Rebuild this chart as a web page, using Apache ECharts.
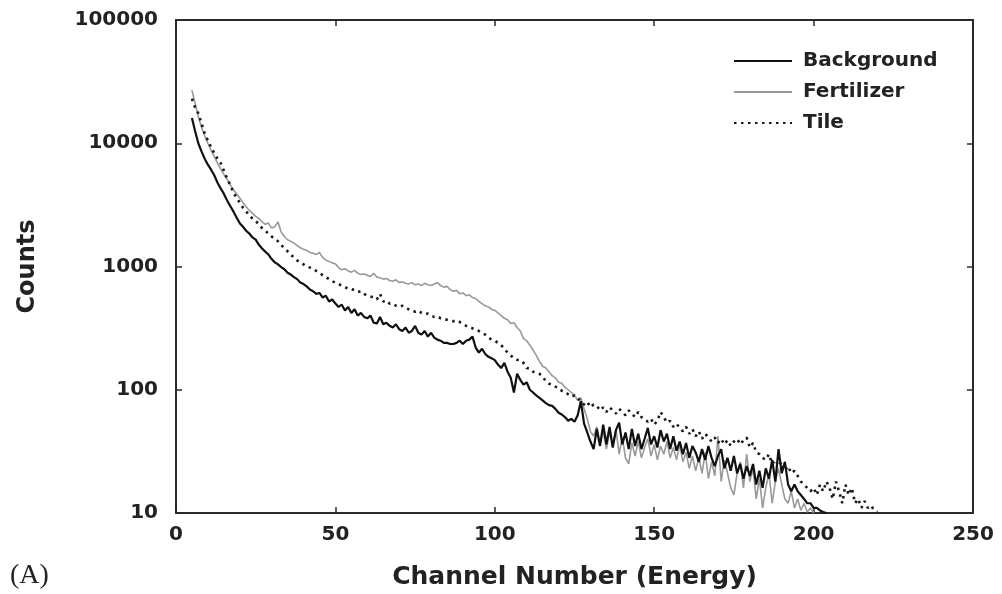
<!DOCTYPE html>
<html>
<head>
<meta charset="utf-8">
<script src="https://cdn.jsdelivr.net/npm/echarts@6/dist/echarts.min.js"></script>
<style>
    html, body { margin: 0; padding: 0; background: #fff; }
    #spectrum { width: 1002px; height: 594px; }
</style>
</head>
<body>
<div id="spectrum"></div>
<script>
// first channel of every spectrum, one count per channel after it
const firstChannel = 5;

const background = [
    16000, 12500, 10000, 8600, 7500, 6700, 6100, 5500, 4800, 4300,
    3900, 3450, 3100, 2800, 2500, 2240, 2100, 1950, 1850, 1720,
    1650, 1500, 1400, 1320, 1250, 1150, 1080, 1040, 990, 950,
    890, 860, 820, 790, 740, 720, 690, 650, 630, 600,
    610, 560, 580, 520, 540, 500, 470, 490, 440, 470,
    420, 450, 400, 420, 390, 380, 400, 350, 345, 390,
    340, 350, 330, 320, 340, 310, 300, 320, 290, 300,
    330, 290, 280, 300, 270, 290, 265, 255, 250, 240,
    240, 235, 235, 240, 250, 235, 250, 255, 270, 220,
    200, 215, 195, 185, 180, 174, 160, 150, 165, 140,
    125, 95, 135, 120, 110, 115, 100, 95, 90, 86,
    82, 78, 75, 74, 70, 65, 63, 60, 56, 58,
    55, 62, 81, 53, 45, 38, 33, 48, 35, 52,
    36, 50, 34, 47, 54, 36, 45, 33, 48, 35,
    44, 33, 40, 49, 36, 42, 34, 47, 38, 44,
    33, 42, 32, 38, 30, 37, 28, 35, 31, 26,
    33, 27, 35, 28, 24, 29, 33, 23, 28, 22,
    29, 21, 25, 19, 24, 20, 25, 17, 22, 16,
    23, 19, 27, 18, 33, 21, 26, 17, 15, 17,
    15, 14, 13, 12, 12, 11, 11, 10.5, 10.2, 10
];

const fertilizer = [
    27000, 21000, 16500, 13500, 11500, 10000, 8800, 7800, 6900, 6200,
    5600, 5100, 4600, 4200, 3900, 3600, 3300, 3050, 2850, 2700,
    2550, 2450, 2300, 2200, 2250, 2050, 2100, 2300, 1900, 1750,
    1650, 1600, 1550, 1480, 1420, 1380, 1350, 1300, 1280, 1250,
    1300, 1180, 1130, 1100, 1070, 1050, 980, 940, 960, 920,
    900, 930, 880, 860, 870, 850, 830, 880, 820, 810,
    790, 800, 770, 760, 780, 740, 750, 730, 720, 740,
    710, 720, 700, 730, 710, 700, 720, 740, 700, 680,
    690, 650, 630, 640, 600, 610, 580, 590, 560, 550,
    520, 500, 480, 470, 450, 440, 420, 400, 380, 370,
    345, 350, 320, 300, 260, 250, 230, 210, 190, 170,
    155, 150, 140, 130, 125, 115, 113, 105, 100, 95,
    90, 82, 86, 70, 58, 46, 42, 50, 36, 46,
    33, 45, 36, 48, 30, 41, 28, 25, 37, 29,
    38, 28, 34, 40, 29, 36, 27, 35, 30, 38,
    28, 34, 27, 36, 26, 31, 23, 29, 22, 28,
    21, 31, 19, 26, 20, 42, 18, 27, 21, 16,
    14, 21, 26, 16, 30, 18, 23, 13, 19, 11,
    16, 21, 12, 18, 23, 17, 13, 12, 15, 11,
    13, 10.5, 12, 10.2, 11, 10
];

const tile = [
    23000, 19500, 17500, 14500, 12000, 10500, 9300, 8300, 7500, 6900,
    6000, 5200, 4600, 4000, 3600, 3300, 3000, 2800, 2600, 2450,
    2340, 2200, 2050, 1950, 1850, 1750, 1680, 1600, 1500, 1400,
    1330, 1250, 1180, 1120, 1080, 1040, 1000, 980, 950, 920,
    890, 850, 820, 790, 760, 740, 720, 700, 680, 660,
    660, 640, 620, 630, 600, 580, 570, 560, 540, 600,
    520, 530, 500, 500, 480, 470, 480, 460, 450, 440,
    430, 440, 420, 410, 415, 400, 390, 395, 380, 375,
    370, 365, 360, 365, 355, 340, 330, 320, 315, 305,
    300, 290, 280, 265, 255, 250, 240, 230, 215, 200,
    190, 180, 175, 174, 165, 150, 148, 140, 138, 135,
    128, 117, 112, 110, 106, 104, 98, 96, 92, 88,
    90, 86, 80, 76, 80, 72, 76, 74, 68, 72,
    66, 72, 68, 64, 70, 66, 62, 68, 64, 60,
    66, 60, 58, 55, 58, 52, 56, 66, 60, 54,
    56, 50, 53, 49, 46, 50, 44, 48, 42, 46,
    40, 44, 41, 38, 41, 37, 40, 36, 39, 35,
    38, 40, 36, 39, 41, 34, 37, 31, 30, 28,
    27, 30, 25, 27, 24, 26, 22, 24, 21, 22,
    20, 18, 17, 16, 15, 16, 14, 17, 15, 18,
    16, 13, 18, 15, 12, 17, 14, 16, 12, 13,
    11, 12.5, 11, 11.5, 10.5, 10.2
];

const seriesNames = ['Background', 'Fertilizer', 'Tile'];

function toPairs (counts) {
    return counts.map((v, i) => [firstChannel + i, v]);
}

const font = 'DejaVu Sans';
const axisColor = '#2b2b2b';

let frameAxis = (extra) => Object.assign({
    axisLine: {show: true, onZero: false, lineStyle: {color: axisColor, width: 2}},
    axisTick: {show: true, inside: true, length: 6, lineStyle: {color: axisColor, width: 1.5}},
    splitLine: {show: false}
}, extra);

let myChart = echarts.init(document.getElementById('spectrum'));
myChart.setOption({
    animation: false,
    backgroundColor: '#fff',
    grid: {
        left: 176,
        top: 20,
        right: 29,
        bottom: 81,
        outerBoundsMode: 'none'
    },
    legend: {
        orient: 'vertical',
        left: 733,
        top: 51,
        itemWidth: 58,
        itemHeight: 14,
        itemGap: 11,
        padding: 0,
        itemStyle: {opacity: 0},
        textStyle: {
            fontFamily: font,
            fontWeight: 'bold',
            fontSize: 20,
            lineHeight: 20,
            color: '#222',
            padding: [0, 0, 0, 6]
        },
        data: seriesNames
    },
    xAxis: [
        frameAxis({
            type: 'value',
            min: 0,
            max: 250,
            interval: 50,
            name: 'Channel Number (Energy)',
            nameLocation: 'middle',
            nameGap: 52,
            nameTextStyle: {fontFamily: font, fontWeight: 'bold', fontSize: 25, color: '#222'},
            axisLabel: {
                margin: 12,
                fontFamily: font,
                fontWeight: 'bold',
                fontSize: 20,
                color: '#222'
            }
        }),
        frameAxis({
            type: 'value',
            position: 'top',
            min: 0,
            max: 250,
            interval: 50,
            axisLabel: {show: false}
        })
    ],
    yAxis: [
        frameAxis({
            type: 'log',
            logBase: 10,
            min: 10,
            max: 100000,
            name: 'Counts',
            nameLocation: 'middle',
            nameGap: 136,
            nameRotate: 90,
            nameTextStyle: {fontFamily: font, fontWeight: 'bold', fontSize: 24, color: '#222'},
            axisLabel: {
                margin: 18,
                fontFamily: font,
                fontWeight: 'bold',
                fontSize: 20,
                color: '#222',
                formatter: (v) => String(Math.round(v))
            }
        }),
        frameAxis({
            type: 'log',
            logBase: 10,
            position: 'right',
            min: 10,
            max: 100000,
            axisLabel: {show: false}
        })
    ],
    graphic: [{
        type: 'text',
        left: 10,
        top: 562,
        style: {
            text: '(A)',
            font: '28px "Liberation Serif"',
            fill: '#222'
        }
    }],
    series: [
        {
            name: seriesNames[0],
            type: 'line',
            symbol: 'none',
            z: 3,
            color: '#111',
            lineStyle: {color: '#111', width: 2.2},
            data: toPairs(background)
        },
        {
            name: seriesNames[1],
            type: 'line',
            symbol: 'none',
            z: 2,
            color: '#999',
            lineStyle: {color: '#999', width: 1.6},
            data: toPairs(fertilizer)
        },
        {
            name: seriesNames[2],
            type: 'line',
            symbol: 'none',
            z: 4,
            color: '#1a1a1a',
            lineStyle: {color: '#1a1a1a', width: 2.6, type: [2.5, 4.5]},
            data: toPairs(tile)
        }
    ]
});
</script>
</body>
</html>
